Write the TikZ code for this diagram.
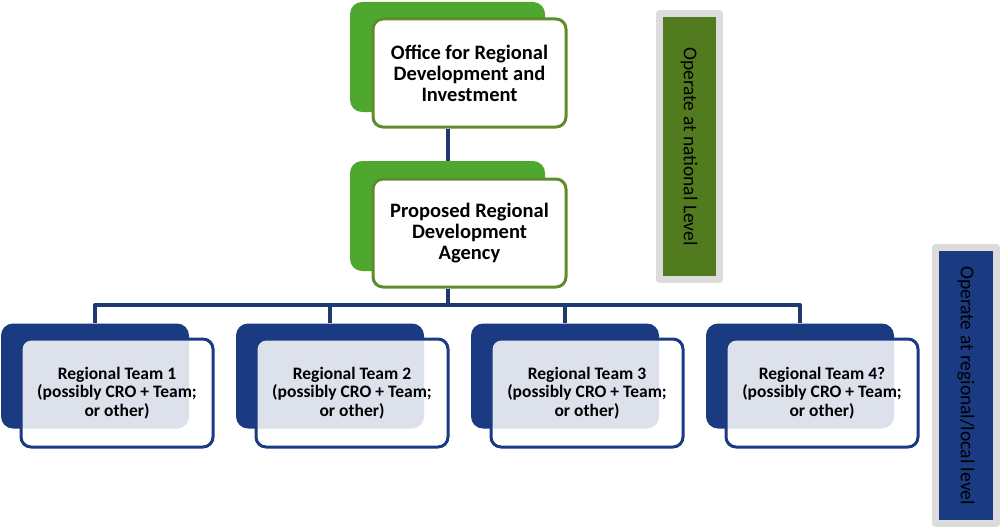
\documentclass[tikz,border=0pt]{standalone}
\usepackage{fontspec}
\setmainfont{Carlito}
\usetikzlibrary{positioning}

\definecolor{grnback}{HTML}{4EA72E}
\definecolor{grnline}{HTML}{5E8C2C}
\definecolor{grnlabel}{HTML}{527A1E}
\definecolor{bluback}{HTML}{1A3A82}
\definecolor{conncol}{HTML}{1F3A6E}
\definecolor{graybox}{HTML}{DCDCDC}

\begin{document}
\begin{tikzpicture}[
    x = 1pt, y = -1pt,
    line join=round,
    grnbackbox/.style = {fill=grnback, rounded corners=12pt, inner sep=0pt,
        minimum width=195pt, minimum height=110pt},
    grnfrontbox/.style = {draw=grnline, line width=3pt, fill=white, rounded corners=10pt,
        inner sep=0pt, minimum width=193pt, minimum height=108pt, align=center,
        font=\bfseries\fontsize{20.5}{21}\selectfont},
    blubackbox/.style = {fill=bluback, rounded corners=12pt, inner sep=0pt,
        minimum width=188pt, minimum height=105pt},
    blufrontbox/.style = {draw=bluback, line width=3pt, fill=white, fill opacity=0.85,
        text opacity=1, rounded corners=10pt, inner sep=0pt,
        minimum width=192pt, minimum height=108pt, align=center,
        font=\bfseries\fontsize{17.5}{18.5}\selectfont},
    levelbox/.style = {draw=graybox, line width=7pt, inner sep=0pt, rotate=-90,
        font=\fontsize{19.5}{21}\selectfont},
    conn/.style = {draw=conncol, line width=4pt}
]

\useasboundingbox (0,0) rectangle (1000,527);

% national level
\node[grnbackbox] (back1) at (447.5,57) {};
\node[grnfrontbox] (front1) at (469.5,73) {Office for Regional\\Development and\\Investment};
\node[grnbackbox] (back2) at (447.5,216) {};
\node[grnfrontbox] (front2) at (469.5,233) {Proposed Regional\\Development\\Agency};

% regional teams
\foreach \i/\xx/\lbl in {1/95/{Regional Team 1}, 2/330/{Regional Team 2},
                         3/565/{Regional Team 3}, 4/800/{Regional Team 4?}}{
    \node[blubackbox] (tback\i) at (\xx,376) {};
    \node[blufrontbox] (tfront\i) at (\xx+22,393) {\lbl\\(possibly CRO + Team;\\or other)};
}

% connectors
\coordinate (bus) at (447.5,305);
\draw[conn] (front1.south -| back1.south) -- (back2.north);
\draw[conn] (front2.south -| back2.south) -- (bus);
\draw[conn] (tback1.north) |- (bus) -| (tback4.north);
\draw[conn] (tback2.north) -- (tback2.north |- bus);
\draw[conn] (tback3.north) -- (tback3.north |- bus);

% level labels
\node[levelbox, fill=grnlabel, minimum width=266pt, minimum height=60pt]
    (national) at (689,146.5) {Operate at national Level};
\node[levelbox, fill=bluback, minimum width=276pt, minimum height=61pt]
    (regional) at (966,385.5) {Operate at regional/local level};

\end{tikzpicture}
\end{document}
